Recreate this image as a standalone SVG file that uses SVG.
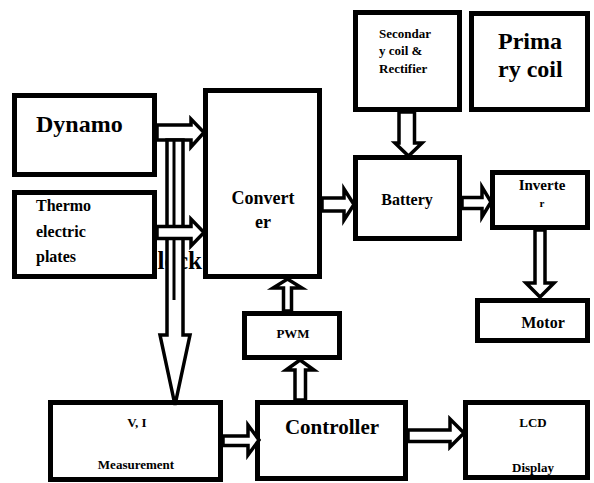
<svg xmlns="http://www.w3.org/2000/svg" width="594" height="483" viewBox="0 0 594 483" font-family="'Liberation Serif', 'Times New Roman', serif">
<style>
.box{fill:none;stroke:#000;stroke-width:5}
.arr{fill:#fff;stroke:#000;stroke-width:3.5;stroke-linejoin:miter}
text{font-family:'Liberation Serif', 'Times New Roman', serif;font-weight:bold;fill:#000}
.c{text-anchor:middle}
</style>
<rect width="594" height="483" fill="#fff"/>
<g id="dynamo"><text x="36" y="132" font-size="24">Dynamo</text><rect class="box" x="14.5" y="95.5" width="140" height="79"/></g>
<g id="thermo"><text x="36" y="210.5" font-size="16">Thermo</text><text x="36" y="236.5" font-size="16">electric</text><text x="36" y="262" font-size="16">plates</text><rect class="box" x="14.5" y="192.5" width="140" height="84"/></g>
<g id="lock"><text x="157.5" y="269" font-size="25">lock</text></g>
<g id="converter"><text class="c" x="263" y="204" font-size="18">Convert</text><text class="c" x="263" y="228" font-size="18">er</text><rect class="box" x="205.5" y="90.5" width="114" height="186"/></g>
<g id="secondary"><text x="379" y="38" font-size="13">Secondar</text><text x="379" y="55" font-size="13">y coil &amp;</text><text x="379" y="73" font-size="13">Rectifier</text><rect class="box" x="355.5" y="12.5" width="104" height="97"/></g>
<g id="primary"><text x="498" y="49" font-size="24">Prima</text><text x="498" y="77" font-size="24">ry coil</text><rect class="box" x="471.5" y="13.5" width="116" height="96"/></g>
<g id="battery"><text class="c" x="407" y="205" font-size="16">Battery</text><rect class="box" x="355.5" y="157.5" width="104" height="81"/></g>
<g id="inverter"><text class="c" x="542" y="190" font-size="15">Inverte</text><text class="c" x="542" y="207" font-size="11">r</text><rect class="box" x="492.5" y="172.5" width="95" height="55"/></g>
<g id="motor"><text class="c" x="543" y="328" font-size="16">Motor</text><rect class="box" x="477.5" y="300.5" width="110" height="40"/></g>
<g id="pwm"><text class="c" x="293" y="338" font-size="13">PWM</text><rect class="box" x="244.5" y="313.5" width="95" height="44"/></g>
<g id="measurement"><text class="c" x="137" y="427" font-size="13">V, I</text><text class="c" x="136" y="469" font-size="13">Measurement</text><rect class="box" x="50.5" y="402.5" width="170" height="77"/></g>
<g id="controller"><text class="c" x="332" y="434" font-size="21">Controller</text><rect class="box" x="257.5" y="402.5" width="148" height="76"/></g>
<g id="lcd"><text class="c" x="533" y="427" font-size="13">LCD</text><text class="c" x="533" y="472" font-size="13">Display</text><rect class="box" x="465.5" y="402.5" width="122" height="75"/></g>
<g id="connectors">
<polygon class="arr" points="157,125 191,125 191,119 204,132.5 191,147 191,140 157,140"/>
<polygon class="arr" points="167,140 183,140 183,335 190,335 175,405 160,335 167,335"/>
<line x1="174" y1="140" x2="174" y2="300" stroke="#000" stroke-width="3"/>
<polygon class="arr" points="157,226.5 191,226.5 191,219 204,232.5 191,246 191,238.5 157,238.5"/>
<polygon class="arr" points="322,198 344,198 344,189 354,204.5 344,220 344,211 322,211"/>
<polygon class="arr" points="399,112 399,143 395,143 408.5,156 422,143 414.5,143 414.5,112"/>
<polygon class="arr" points="462,197.5 482,197.5 482,187 491,202 482,217 482,208.5 462,208.5"/>
<polygon class="arr" points="535,230 535,283 526,283 540,297 554,283 545,283 545,230"/>
<polygon class="arr" points="283.5,311 283.5,288 273,288 287.5,279 302,288 291.5,288 291.5,311"/>
<polygon class="arr" points="295,400 295,370 286,370 300,360 314,370 305.5,370 305.5,400"/>
<polygon class="arr" points="223,436 248,436 248,425 259,440 248,455 248,445.5 223,445.5"/>
<polygon class="arr" points="408,430 450,430 450,419 464,433 450,447 450,441.5 408,441.5"/>
</g>
</svg>
